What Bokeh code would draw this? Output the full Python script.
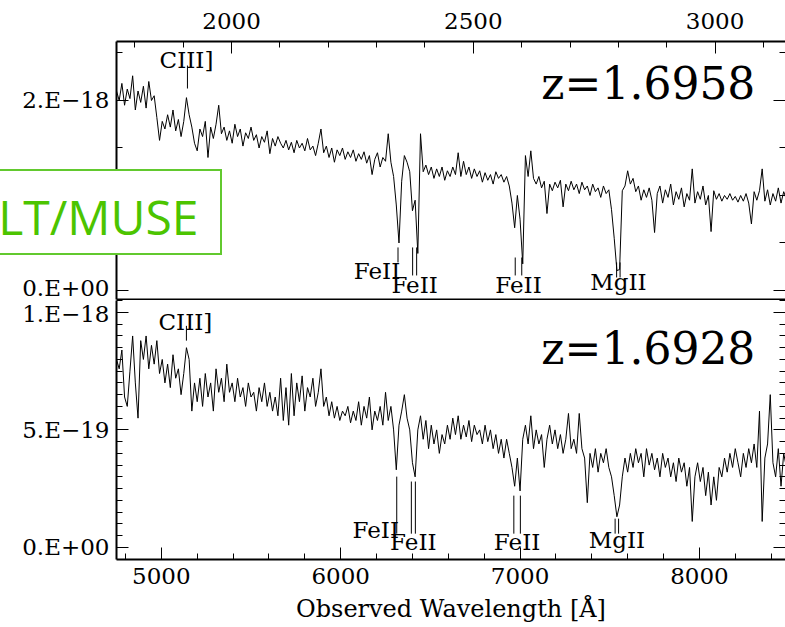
import numpy as np
from bokeh.plotting import figure
from bokeh.models import (Range1d, LinearAxis, FixedTicker, SingleIntervalTicker,
                          CustomJSTickFormatter, Label, ColumnDataSource, GridBox)
from bokeh.core.properties import value
from bokeh.embed import file_html
from bokeh.resources import INLINE

# ---------------------------------------------------------------- data
# observed wavelength grid [Angstrom], 15 A sampling
wave = 4750 + 15 * np.arange(250)

# flux density of the two spectra, in units of 1e-18 erg/s/cm2/A
flux_a = [
    2.10, 2.00, 2.18, 1.95, 2.12, 2.02, 2.26, 1.90, 2.10, 1.98,
    2.15, 1.92, 2.20, 2.00, 2.05, 1.82, 1.58, 1.78, 1.70, 1.85,
    1.72, 1.90, 1.68, 1.80, 1.62, 1.78, 2.03, 1.85, 1.72, 1.55,
    1.47, 1.70, 1.62, 1.78, 1.40, 1.72, 1.60, 1.75, 1.95, 1.65,
    1.72, 1.58, 1.68, 1.55, 1.75, 1.62, 1.70, 1.52, 1.66, 1.60,
    1.72, 1.58, 1.64, 1.50, 1.62, 1.56, 1.68, 1.44, 1.60, 1.52,
    1.62, 1.55, 1.50, 1.58, 1.48, 1.56, 1.45, 1.58, 1.50, 1.55,
    1.47, 1.60, 1.48, 1.52, 1.42, 1.55, 1.70, 1.45, 1.52, 1.40,
    1.50, 1.35, 1.48, 1.42, 1.50, 1.38, 1.46, 1.40, 1.48, 1.36,
    1.44, 1.38, 1.46, 1.34, 1.42, 1.22, 1.38, 1.45, 1.30, 1.40,
    1.36, 1.65, 1.35, 1.20, 0.90, 0.50, 1.15, 1.42, 1.35, 1.25,
    0.84, 0.95, 0.39, 1.65, 1.25, 1.32, 1.22, 1.30, 1.18, 1.28,
    1.20, 1.30, 1.16, 1.26, 1.20, 1.30, 1.22, 1.45, 1.20, 1.36,
    1.22, 1.30, 1.18, 1.28, 1.20, 1.26, 1.14, 1.24, 1.16, 1.22,
    1.12, 1.25, 1.18, 1.22, 1.14, 1.20, 1.10, 0.92, 0.66, 1.00,
    0.75, 0.28, 1.42, 1.20, 1.47, 1.18, 1.12, 1.20, 1.08, 1.15,
    0.81, 1.12, 1.05, 1.14, 1.08, 1.16, 0.88, 1.12, 1.05, 1.15,
    1.06, 1.12, 1.02, 1.14, 1.06, 1.10, 1.00, 1.12, 1.04, 1.08,
    0.98, 1.10, 1.02, 1.06, 0.85, 0.55, 0.21, 0.22, 1.05, 1.10,
    1.26, 1.12, 1.18, 1.04, 1.10, 0.95, 1.06, 0.98, 1.08, 0.95,
    0.61, 1.02, 1.10, 0.92, 1.06, 0.98, 1.12, 0.90, 1.04, 0.96,
    1.08, 0.88, 1.02, 0.95, 1.28, 0.92, 1.04, 0.96, 1.10, 0.90,
    1.00, 0.62, 1.05, 0.96, 1.02, 0.94, 1.00, 0.96, 1.02, 0.95,
    0.99, 0.93, 1.00, 0.94, 1.02, 0.92, 0.70, 1.04, 0.95, 1.05,
    1.28, 0.94, 1.06, 0.90, 1.02, 0.94, 1.08, 0.92, 1.04, 0.96,
]
flux_b = [
    0.80, 0.76, 0.84, 0.64, 0.60, 0.75, 0.90, 0.70, 0.55, 0.88,
    0.80, 0.90, 0.76, 0.86, 0.78, 0.88, 0.74, 0.80, 0.70, 0.78,
    0.68, 0.82, 0.72, 0.76, 0.65, 0.74, 0.85, 0.80, 0.58, 0.70,
    0.62, 0.72, 0.60, 0.74, 0.64, 0.70, 0.58, 0.76, 0.66, 0.72,
    0.62, 0.78, 0.66, 0.70, 0.62, 0.72, 0.64, 0.68, 0.60, 0.70,
    0.64, 0.66, 0.58, 0.68, 0.62, 0.70, 0.60, 0.66, 0.58, 0.64,
    0.56, 0.72, 0.54, 0.68, 0.52, 0.74, 0.56, 0.70, 0.62, 0.73,
    0.58, 0.68, 0.64, 0.72, 0.60, 0.66, 0.76, 0.60, 0.64, 0.56,
    0.62, 0.55, 0.60, 0.54, 0.58, 0.56, 0.60, 0.53, 0.58, 0.54,
    0.62, 0.52, 0.60, 0.55, 0.64, 0.50, 0.58, 0.54, 0.60, 0.52,
    0.66, 0.54, 0.60, 0.50, 0.33, 0.52, 0.58, 0.65, 0.55, 0.50,
    0.36, 0.30, 0.50, 0.56, 0.46, 0.54, 0.42, 0.52, 0.44, 0.50,
    0.40, 0.48, 0.44, 0.52, 0.46, 0.55, 0.48, 0.56, 0.46, 0.52,
    0.47, 0.54, 0.45, 0.52, 0.48, 0.50, 0.44, 0.52, 0.45, 0.50,
    0.42, 0.48, 0.40, 0.46, 0.38, 0.46, 0.40, 0.34, 0.26, 0.38,
    0.24, 0.46, 0.52, 0.44, 0.56, 0.42, 0.50, 0.44, 0.48, 0.34,
    0.46, 0.52, 0.44, 0.50, 0.42, 0.48, 0.40, 0.46, 0.57, 0.42,
    0.46, 0.40, 0.57, 0.42, 0.38, 0.19, 0.40, 0.34, 0.42, 0.32,
    0.40, 0.36, 0.42, 0.34, 0.30, 0.22, 0.13, 0.18, 0.30, 0.38,
    0.32, 0.40, 0.34, 0.42, 0.36, 0.40, 0.30, 0.42, 0.35, 0.40,
    0.33, 0.38, 0.30, 0.40, 0.34, 0.38, 0.30, 0.36, 0.28, 0.38,
    0.32, 0.36, 0.26, 0.34, 0.11, 0.30, 0.36, 0.28, 0.34, 0.22,
    0.32, 0.18, 0.30, 0.20, 0.34, 0.30, 0.38, 0.32, 0.40, 0.34,
    0.42, 0.36, 0.30, 0.40, 0.34, 0.42, 0.36, 0.44, 0.34, 0.58,
    0.11, 0.38, 0.44, 0.65, 0.36, 0.30, 0.42, 0.26, 0.40, 0.34,
]

z_a = 1.6958
z_b = 1.6928

# rest-frame wavelengths of the identified transitions
line_rest = [1908.73, 2344.21, 2374.46, 2382.77, 2586.65, 2600.17, 2796.35, 2803.53]
# label groups: text and the transitions each one marks
label_text = ["CIII]", "FeII", "FeII", "FeII", "MgII"]
label_members = [[0], [1], [2, 3], [4, 5], [6, 7]]

# y-axis tick labels (flux in 1e-18 units -> text)
ticks_a = {0: "0.E+00", 2: "2.E\u221218"}
ticks_b = {0: "0.E+00", 0.5: "5.E\u221219", 1: "1.E\u221218"}

# ---------------------------------------------------------------- layout / style
SERIF = "DejaVu Serif"
X0, X1 = 4750, 8480

# ID mark extents (flux units) per transition, and label centres per group
marks_a = [(2.368, 2.126), (0.453, 0.295), (0.453, 0.158), (0.453, 0.158),
           (0.347, 0.158), (0.347, 0.158), (0.295, 0.137), (0.295, 0.137)]
marks_b = [(0.943, 0.880), (0.301, 0.058), (0.280, 0.058), (0.280, 0.058),
           (0.220, 0.058), (0.220, 0.058), (0.122, 0.058), (0.122, 0.058)]
mid_a = [2.421, 0.200, 0.058, 0.058, 0.084]
mid_b = [0.961, 0.073, 0.022, 0.022, 0.033]
label_dx = [-1, -21, 0, 0, 0]


def style_axis(ax, font_size="23px"):
    ax.axis_line_width = 2
    ax.axis_line_color = "black"
    ax.major_tick_in = 12
    ax.major_tick_out = 0
    ax.minor_tick_in = 6
    ax.minor_tick_out = 0
    ax.major_tick_line_width = 1
    ax.minor_tick_line_width = 1
    ax.major_label_text_font = SERIF
    ax.major_label_text_font_size = font_size
    ax.major_label_text_color = "black"


def blank_axis(ticker):
    ax = LinearAxis(ticker=ticker,
                    formatter=CustomJSTickFormatter(code="return ''"))
    style_axis(ax)
    ax.major_label_standoff = 0
    return ax


def make_panel(flux, z, yr, height, border_top, border_bottom, ticker, labels,
               marks, mids, z_y):
    p = figure(width=785, height=height, x_range=Range1d(X0, X1), y_range=yr,
               x_axis_location=None, y_axis_location=None,
               toolbar_location=None, output_backend="svg",
               min_border_left=116, min_border_right=0,
               min_border_top=border_top, min_border_bottom=border_bottom,
               outline_line_color=None, background_fill_color="white")
    p.xgrid.visible = False
    p.ygrid.visible = False

    left = LinearAxis(ticker=ticker, major_label_overrides=labels)
    style_axis(left)
    left.major_label_standoff = 7
    p.add_layout(left, "left")

    right = blank_axis(ticker)
    right.axis_line_color = None
    p.add_layout(right, "right")

    p.line(wave, flux, line_color="black", line_width=1)

    obs = [lr * (1 + z) for lr in line_rest]
    p.segment(x0=obs, x1=obs, y0=[m[0] for m in marks], y1=[m[1] for m in marks],
              line_color="black", line_width=1)

    lx = [float(np.mean([obs[i] for i in grp])) for grp in label_members]
    src = ColumnDataSource(dict(x=lx, y=mids, text=label_text, dx=label_dx))
    p.text(x="x", y="y", text="text", x_offset="dx", source=src,
           text_align="center", text_baseline="middle",
           text_font=value(SERIF), text_font_size=value("23px"),
           text_color="black")

    p.add_layout(Label(x=8312, y=z_y, text=f"z={z:.4f}", text_align="right",
                       text_baseline="middle", text_font=SERIF,
                       text_font_size="44px", text_color="black"))
    return p


# top panel
ticker_a = FixedTicker(ticks=[0, 2], minor_ticks=[0.5, 1.0, 1.5, 2.5])
p1 = make_panel(flux_a, z_a, Range1d(-0.095, 2.621), 300, 41, 1, ticker_a,
                ticks_a, marks_a, mid_a, 2.179)

# rest-frame axis on top
p1.extra_x_ranges = {"rest": Range1d(X0 / (1 + z_a), X1 / (1 + z_a))}
top = LinearAxis(x_range_name="rest",
                 ticker=SingleIntervalTicker(interval=500, num_minor_ticks=5))
style_axis(top)
top.major_label_standoff = 13
p1.add_layout(top, "above")

# lower frame edge of the top panel
sep = blank_axis(FixedTicker(ticks=[]))
p1.add_layout(sep, "below")

# bottom panel
ticker_b = FixedTicker(ticks=[0, 0.5, 1.0],
                       minor_ticks=[round(0.05 * k, 2) for k in range(1, 22) if k % 10])
p2 = make_panel(flux_b, z_b, Range1d(-0.052, 1.051), 327, 0, 68, ticker_b,
                ticks_b, marks_b, mid_b, 0.848)
bottom = LinearAxis(ticker=SingleIntervalTicker(interval=1000, num_minor_ticks=5),
                    axis_label="Observed Wavelength [\u00c5]")
style_axis(bottom)
bottom.major_label_standoff = 8
bottom.axis_label_standoff = 8
bottom.axis_label_text_font = SERIF
bottom.axis_label_text_font_size = "24px"
bottom.axis_label_text_font_style = "normal"
bottom.axis_label_text_color = "black"
p2.add_layout(bottom, "below")

# instrument tag, a small boxed canvas laid over the upper-left corner
tag = figure(width=252, height=86, x_range=Range1d(0, 252), y_range=Range1d(0, 86),
             x_axis_location=None, y_axis_location=None,
             toolbar_location=None, output_backend="svg", min_border=0,
             outline_line_color="#62c92e", outline_line_width=3,
             background_fill_color="white", border_fill_color="white",
             margin=(169, 0, 0, -30))
tag.frame_align = False
tag.xgrid.visible = False
tag.ygrid.visible = False
tag.text(x=[228], y=[39], text=["VLT/MUSE"], text_align="right",
         text_baseline="middle", text_font=value("Open Sans"),
         text_font_size=value("48px"), text_color="#4cc400")

layout = GridBox(children=[(p1, 0, 0), (tag, 0, 0), (p2, 1, 0)], spacing=0)
open("out.html", "w").write(file_html(layout, INLINE))
